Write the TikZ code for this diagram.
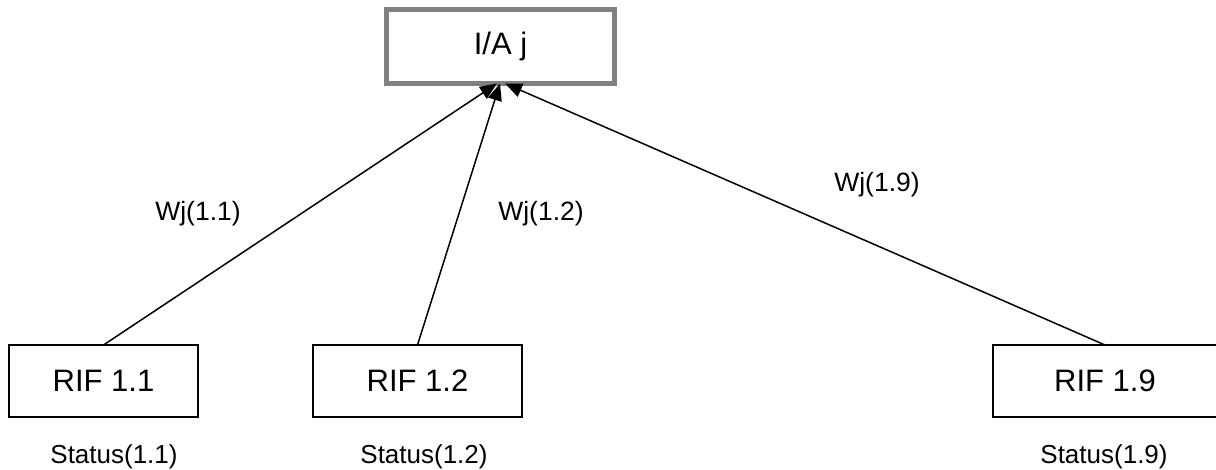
\documentclass[tikz,border=0pt]{standalone}
\usepackage{fontspec}
\setmainfont{Liberation Sans}
\usetikzlibrary{arrows.meta}

\tikzset{
  rifbox/.style={draw=black, line width=2pt, inner sep=0pt, outer sep=0pt,
    minimum height=72pt, font=\fontsize{31}{36}\selectfont},
  topbox/.style={draw=black!50, line width=5pt, inner sep=0pt, outer sep=0pt,
    minimum width=228pt, minimum height=74pt, font=\fontsize{31}{36}\selectfont},
  weight/.style={anchor=base, inner sep=0pt, font=\fontsize{26.5}{30}\selectfont},
  status/.style={anchor=base, inner sep=0pt, font=\fontsize{26}{30}\selectfont},
  link/.style={line width=1.5pt, -{Triangle[length=17pt,width=14pt]}}
}

\begin{document}
\begin{tikzpicture}[x=1pt, y=-1pt]
  \useasboundingbox (0,0) rectangle (1216,470);

  % aggregating node
  \node[topbox] (ia) at (500.5,46.5) {I/A j};

  % influencing factors
  \node[rifbox, minimum width=189pt] (r11) at (103.5,381) {RIF 1.1};
  \node[rifbox, minimum width=209pt] (r12) at (417.5,381) {RIF 1.2};
  \node[rifbox, minimum width=224pt] (r19) at (1105,381) {RIF 1.9};

  % status captions
  \node[status] (s11) at (114,463) {Status(1.1)};
  \node[status] (s12) at (424,463) {Status(1.2)};
  \node[status] (s19) at (1104,463) {Status(1.9)};

  % weighted links
  \draw[link] (r11.north) -- ([xshift=-3.5pt]ia.south);
  \draw[link] (r12.north) -- ([xshift=-0.5pt]ia.south);
  \draw[link] (r19.north) -- ([xshift=4.5pt]ia.south);

  % weight labels
  \node[weight] (w11) at (198,221) {Wj(1.1)};
  \node[weight] (w12) at (541,221) {Wj(1.2)};
  \node[weight] (w19) at (877,192) {Wj(1.9)};
\end{tikzpicture}
\end{document}
